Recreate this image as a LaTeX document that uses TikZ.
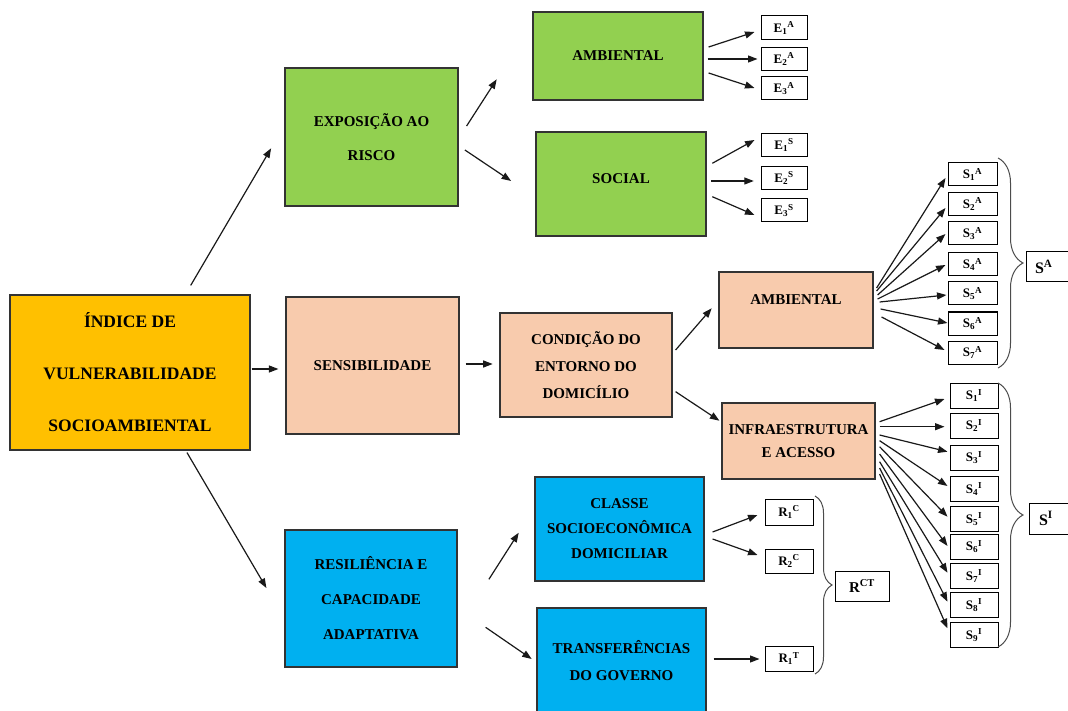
\documentclass[tikz,border=0pt]{standalone}
\usepackage{fontspec}
\setmainfont{Liberation Serif}
\usetikzlibrary{arrows.meta,decorations.pathreplacing}
\definecolor{cyel}{HTML}{FFC000}
\definecolor{cgrn}{HTML}{92D050}
\definecolor{cpch}{HTML}{F8CBAD}
\definecolor{cblu}{HTML}{00B0F0}
\begin{document}
\begin{tikzpicture}[x=1pt,y=-1pt,
  box/.style={draw=black!80, line width=1.2pt, inner sep=0pt, align=center},
  sbox/.style={draw=black, line width=1pt, inner sep=0pt, font=\fontsize{13}{15}\selectfont\bfseries},
  arr/.style={-{Triangle[length=9.5pt,width=7pt]}, line width=1.2pt, draw=black!90},
  brc/.style={decorate, decoration={brace, amplitude=#1}, line width=1pt, draw=black!70}]
\useasboundingbox (0,0) rectangle (1068,711);
\clip (0,0) rectangle (1068,711);
% main boxes
\node[box, fill=cyel, minimum width=240pt, minimum height=155pt, font=\fontsize{17.5}{52}\selectfont\bfseries] (idx) at (130,372.5) {ÍNDICE DE\\VULNERABILIDADE\\SOCIOAMBIENTAL};
\node[box, fill=cgrn, minimum width=173pt, minimum height=138pt, font=\fontsize{15}{34}\selectfont\bfseries] (expo) at (371.5,137) {EXPOSIÇÃO AO\\RISCO};
\node[box, fill=cgrn, minimum width=170pt, minimum height=88pt, font=\fontsize{15}{18}\selectfont\bfseries] (ambG) at (618,56) {AMBIENTAL};
\node[box, fill=cgrn, minimum width=170pt, minimum height=104pt, font=\fontsize{15}{18}\selectfont\bfseries] (soc) at (621,184) {\raisebox{10pt}{SOCIAL}};
\node[box, fill=cpch, minimum width=173pt, minimum height=137pt, font=\fontsize{15}{18}\selectfont\bfseries] (sens) at (372.5,365.5) {SENSIBILIDADE};
\node[box, fill=cpch, minimum width=172pt, minimum height=104pt, font=\fontsize{15}{27}\selectfont\bfseries] (cond) at (586,365) {CONDIÇÃO DO\\ENTORNO DO\\DOMICÍLIO};
\node[box, fill=cpch, minimum width=154pt, minimum height=76pt, font=\fontsize{15}{18}\selectfont\bfseries] (ambP) at (796,310) {\raisebox{20pt}{AMBIENTAL}};
\node[box, fill=cpch, minimum width=153pt, minimum height=76pt, font=\fontsize{15}{23}\selectfont\bfseries] (infra) at (798.5,441) {INFRAESTRUTURA\\E ACESSO};
\node[box, fill=cblu, minimum width=172pt, minimum height=137pt, font=\fontsize{15}{35}\selectfont\bfseries] (res) at (371,598.5) {RESILIÊNCIA E\\CAPACIDADE\\ADAPTATIVA};
\node[box, fill=cblu, minimum width=169pt, minimum height=104pt, font=\fontsize{15}{25}\selectfont\bfseries] (classe) at (619.5,529) {CLASSE\\SOCIOECONÔMICA\\DOMICILIAR};
\node[box, fill=cblu, minimum width=169pt, minimum height=106pt, font=\fontsize{15}{27}\selectfont\bfseries] (transf) at (621.5,661) {TRANSFERÊNCIAS\\DO GOVERNO};
% E boxes
\node[sbox, minimum width=46pt, minimum height=24pt] (e1a) at (784,28) {E\textsubscript{1}\textsuperscript{A}};
\node[sbox, minimum width=46pt, minimum height=23pt] (e2a) at (784,59) {E\textsubscript{2}\textsuperscript{A}};
\node[sbox, minimum width=46pt, minimum height=23pt] (e3a) at (784,88.5) {E\textsubscript{3}\textsuperscript{A}};
\node[sbox, minimum width=46pt, minimum height=23pt] (e1s) at (784,145) {E\textsubscript{1}\textsuperscript{S}};
\node[sbox, minimum width=46pt, minimum height=23pt] (e2s) at (784,178) {E\textsubscript{2}\textsuperscript{S}};
\node[sbox, minimum width=46pt, minimum height=23pt] (e3s) at (784,210.5) {E\textsubscript{3}\textsuperscript{S}};
% S^A boxes
\foreach \i/\y in {1/174.5,2/204,3/233.5,4/264.5,5/293.5,6/323.5,7/352.5}
  \node[sbox, minimum width=49pt, minimum height=23pt] (sa\i) at (972.5,\y) {S\textsubscript{\i}\textsuperscript{A}};
% S^I boxes
\foreach \i/\y in {1/395.5,2/425.5,3/457.5,4/489,5/519,6/546.5,7/576,8/605,9/635}
  \node[sbox, minimum width=48pt, minimum height=25pt] (si\i) at (974,\y) {S\textsubscript{\i}\textsuperscript{I}};
% R boxes
\node[sbox, minimum width=48pt, minimum height=26pt] (r1c) at (789,512) {R\textsubscript{1}\textsuperscript{C}};
\node[sbox, minimum width=48pt, minimum height=24pt] (r2c) at (789,561) {R\textsubscript{2}\textsuperscript{C}};
\node[sbox, minimum width=48pt, minimum height=25pt] (r1t) at (789,658.5) {R\textsubscript{1}\textsuperscript{T}};
% aggregate boxes
\node[sbox, minimum width=54pt, minimum height=30pt, font=\fontsize{15}{17}\selectfont\bfseries] (RCT) at (862,586) {R\textsuperscript{CT}};
\node[sbox, minimum width=46pt, minimum height=30pt, font=\fontsize{16}{18}\selectfont\bfseries, text width=40pt, align=left] (SA) at (1049,267) {\hspace*{6pt}S\textsuperscript{A}};
\node[sbox, minimum width=43pt, minimum height=31pt, font=\fontsize{16}{18}\selectfont\bfseries, text width=37pt, align=left] (SI) at (1050.5,518.5) {\hspace*{7pt}S\textsuperscript{I}};
% braces
\coordinate (bat) at (998,158);
\coordinate (bab) at (998,368);
\coordinate (bit) at (998,383);
\coordinate (bib) at (998,647);
\coordinate (brt) at (815,496);
\coordinate (brb) at (815,674);
\draw[brc=25pt] (bat) -- (bab);
\draw[brc=25pt] (bit) -- (bib);
\draw[brc=17pt] (brt) -- (brb);
% main arrows
\draw[arr] ([shift={(60.7,-9)}]idx.north) -- ([shift={(-13.3,11.3)}]expo.west);
\draw[arr] ([shift={(1,-3.5)}]idx.east) -- ([shift={(-7,3.5)}]sens.west);
\draw[arr] ([shift={(57,2)}]idx.south) -- ([shift={(-18,-10.5)}]res.west);
\draw[arr] ([shift={(8,-11)}]expo.east) -- ([shift={(-35.7,23.3)}]ambG.west);
\draw[arr] ([shift={(6.3,13)}]expo.east) -- ([shift={(-24.3,-3)}]soc.west);
\draw[arr] ([shift={(6,-1.5)}]sens.east) -- ([shift={(-6.7,-1)}]cond.west);
\draw[arr] ([shift={(3,-15)}]cond.east) -- ([shift={(-6.7,-1.7)}]ambP.west);
\draw[arr] ([shift={(3,26.7)}]cond.east) -- ([shift={(-2,-20.3)}]infra.west);
\draw[arr] ([shift={(31.3,-19.2)}]res.east) -- ([shift={(-15.7,3.7)}]classe.west);
\draw[arr] ([shift={(28,28.8)}]res.east) -- ([shift={(-4.7,-2)}]transf.west);
% E arrows
\draw[arr] ([shift={(5,-9)}]ambG.east) -- ([shift={(-6,4)}]e1a.west);
\draw[arr] ([shift={(4,3)}]ambG.east) -- ([shift={(-3,0)}]e2a.west);
\draw[arr] ([shift={(5,17)}]ambG.east) -- ([shift={(-6,-0.5)}]e3a.west);
\draw[arr] ([shift={(5.7,-20.7)}]soc.east) -- ([shift={(-6,-5)}]e1s.west);
\draw[arr] ([shift={(4.7,-3)}]soc.east) -- ([shift={(-6.7,3)}]e2s.west);
\draw[arr] ([shift={(5.7,12.7)}]soc.east) -- ([shift={(-6,4.5)}]e3s.west);
% S^A arrows
\foreach \i/\sx/\sy/\ex/\ey in {1/3/-22/-2/3.5, 2/3/-19/-2/4, 3/4/-15/-2/0.5, 4/4/-11/-2/0.5, 5/6/-8/-1/1.5, 6/7/-1/0/-0.5, 7/8/7/-3/-2.5}
  \draw[arr] ([shift={(\sx,\sy)}]ambP.east) -- ([shift={(\ex,\ey)}]sa\i.west);
% S^I arrows
\foreach \i/\sx/\sy/\ex/\ey in {1/4/-19.3/-5/3.5, 2/4/-14.3/-5/1.2, 3/4/-6/-2/-5.8, 4/4/-0.3/-2/-3, 5/4/5.7/-2/-2.3, 6/4/13/-2/-0.5, 7/4/20.7/-2/-3.3, 8/4/27/-2/-3.3, 9/4/33/-2/-6.7}
  \draw[arr] ([shift={(\sx,\sy)}]infra.east) -- ([shift={(\ex,\ey)}]si\i.west);
% R arrows
\draw[arr] ([shift={(8,3)}]classe.east) -- ([shift={(-7,3)}]r1c.west);
\draw[arr] ([shift={(8,10)}]classe.east) -- ([shift={(-7,-6)}]r2c.west);
\draw[arr] ([shift={(7,-2)}]transf.east) -- ([shift={(-5,0.5)}]r1t.west);
\end{tikzpicture}
\end{document}
